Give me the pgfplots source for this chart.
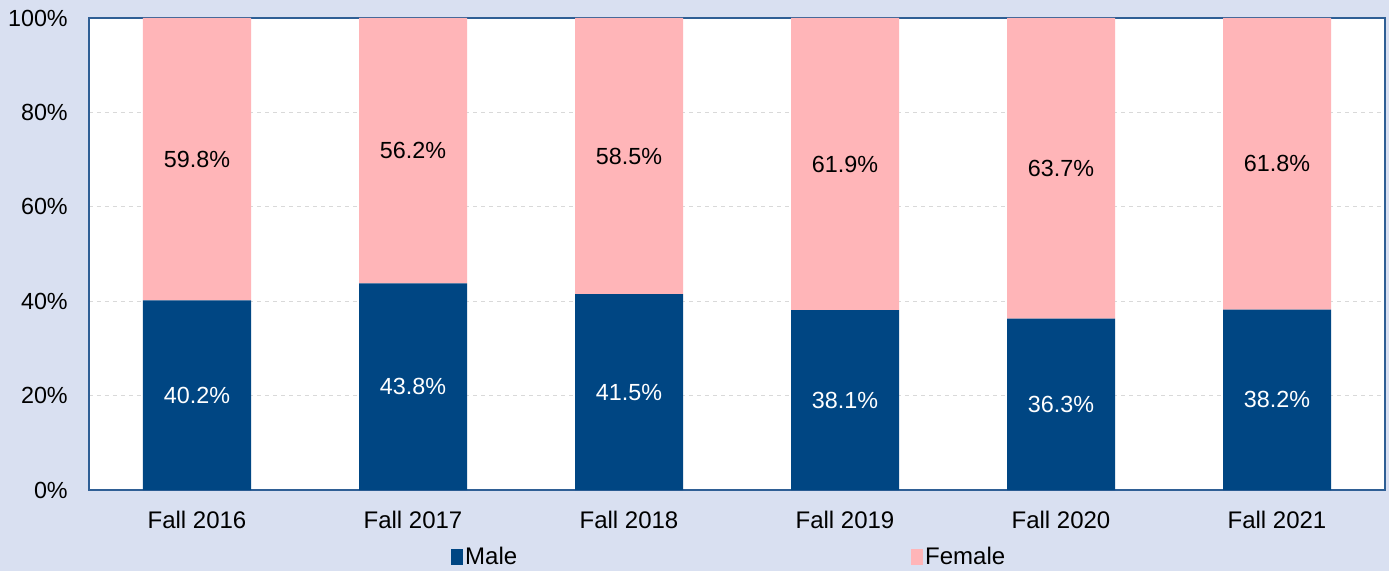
\documentclass[border=0pt]{standalone}
\usepackage{fontspec}
\setmainfont{Liberation Sans}
\usepackage{pgfplots}
\pgfplotsset{compat=1.18}
\usepackage{pgfplotstable}
\definecolor{bgc}{HTML}{D9E0F1}
\definecolor{malec}{HTML}{004683}
\definecolor{femc}{HTML}{FFB5B8}
\definecolor{axc}{HTML}{2F5F95}
\definecolor{gridc}{HTML}{D9D9D9}
\pgfplotstableread{
x male female
0 40.2 59.8
1 43.8 56.2
2 41.5 58.5
3 38.1 61.9
4 36.3 63.7
5 38.2 61.8
}\data
\begin{document}
\begin{tikzpicture}
\fill[bgc] (-66.75pt,-60.75pt) rectangle (975pt,367.5pt);
\begin{axis}[
 at={(0,0)}, anchor=south west,
 scale only axis, width=972pt, height=354pt,
 ybar stacked, bar width=0.5,
 xmin=-0.5, xmax=5.5, ymin=0, ymax=100,
 xtick={0,1,2,3,4,5},
 xticklabels={Fall 2016,Fall 2017,Fall 2018,Fall 2019,Fall 2020,Fall 2021},
 ytick={0,20,40,60,80,100},
 yticklabels={0\%,20\%,40\%,60\%,80\%,100\%},
 major tick length=0pt,
 ymajorgrids, grid style={gridc, dashed, line width=0.75pt},
 axis line style={axc, line width=1pt},
 axis background/.style={fill=white},
 font=\fontsize{17.5}{20}\selectfont,
 tick label style={font=\fontsize{17.5}{20}\selectfont},
 xticklabel style={inner sep=0pt, anchor=north, yshift=-15.75pt, font=\fontsize{18}{20}\selectfont},
 yticklabel style={inner sep=0pt, anchor=east, xshift=-15.75pt},
 legend style={at={(0.494,-0.142)}, anchor=center, draw=none, fill=none,
   legend columns=2, /tikz/every even column/.append style={column sep=293pt},
   font=\fontsize{18}{20}\selectfont},
 legend image code/.code={\fill[#1] (0pt,-6pt) rectangle (9pt,6pt);},
 nodes near coords={\pgfmathprintnumber[assume math mode=true,fixed,fixed zerofill,precision=1]{\pgfplotspointmeta}\%},
 point meta=explicit,
 every node near coord/.append style={anchor=center, font=\fontsize{17.5}{20}\selectfont},
]
\addplot[fill=malec, draw=none,
  nodes near coords style={text=white}] table[x=x,y=male,meta=male]{\data};
\addplot[fill=femc, draw=none,
  nodes near coords style={text=black}] table[x=x,y=female,meta=female]{\data};
\legend{Male,Female}
\end{axis}
\pgfresetboundingbox
\useasboundingbox (-66.75pt,-60.75pt) rectangle (975pt,367.5pt);
\end{tikzpicture}
\end{document}
